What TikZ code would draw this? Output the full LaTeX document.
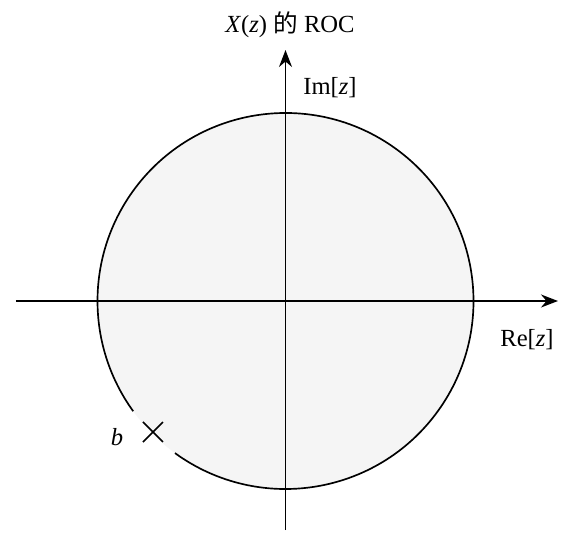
\documentclass[tikz,border=0pt]{standalone}
\usepackage{fontspec}
\setmainfont{Liberation Serif}
\newfontfamily\cjk{Noto Sans CJK SC}
\usetikzlibrary{arrows.meta}
\begin{document}
\begin{tikzpicture}[line width=0.95pt, font=\fontsize{14}{16}\selectfont,
  axis/.style={-{Stealth[length=3.4mm,width=2.6mm]}}]
\useasboundingbox (-5.71,-4.84) rectangle (5.75,6.02);
% ROC disc
\coordinate (o) at (0,0);
\fill[gray!8] (o) circle (3.76);
\draw (o) ++(234:3.76) arc[start angle=234, end angle=575.9, radius=3.76];

% Axes
\coordinate (xl) at (-5.39,0);
\coordinate (xr) at (5.45,0);
\coordinate (yb) at (0,-4.58);
\coordinate (yt) at (0,5.02);
\draw[axis] (xl) -- (xr);
\draw[axis] (yb) -- (yt);

% Pole
\coordinate (p) at (-2.65,-2.62);
\draw (p) ++(-0.2,-0.2) -- ++(0.4,0.4);
\draw (p) ++(-0.2,0.2) -- ++(0.4,-0.4);

% Labels
\node (roc) at (0.09,5.52) {\textit{X}(\textit{z}) {\cjk 的} ROC};
\node (im) at (0.89,4.26) {Im[\textit{z}]};
\node (re) at (4.83,-0.78) {Re[\textit{z}]};
\node (b) at (-3.37,-2.72) {\textit{b}};
\end{tikzpicture}
\end{document}
